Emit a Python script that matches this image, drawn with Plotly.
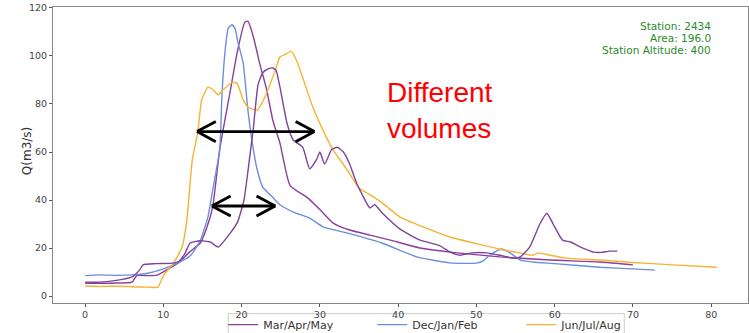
import plotly.graph_objects as go

# Hydrograph events, discharge Q (m3/s) against time step
mam_a_x = [0, 2, 4, 6, 6.6, 8, 9.2, 10.5, 12, 13.4, 14.7, 15.5, 16.3, 17.2, 18.5, 19.5,
           20.4, 20.8, 21.5, 22.3, 23.2, 24, 24.9, 26.2, 28.4, 30, 31.7, 33.8, 36.4, 39,
           42.8, 46.6, 53, 59.4, 65.8, 70]
mam_a_y = [5.3, 5.3, 5.4, 5.8, 8.5, 8.5, 8.7, 11, 14, 18.5, 22, 28, 37, 61, 84.5, 102.5,
           114, 114.5, 108, 97, 86, 73, 63.7, 46, 41, 36, 30.4, 27.5, 25.4, 23.3,
           20, 18.3, 16.3, 15, 14.2, 13]

mam_b_x = [0, 2, 4, 6, 7, 7.4, 9, 11.3, 12, 12.8, 13.4, 14.7, 16, 17, 18.5, 19.5, 20.3,
           21, 21.5, 22.1, 22.7, 23.4, 24, 24.4, 24.9, 25.8, 26.6, 27.8, 28.7, 29.6, 30,
           30.6, 31.5, 32.2, 33, 33.8, 34.7, 36.4, 37, 38, 40.2, 42.8, 45.3, 46.6, 47.9,
           49.4, 51.3, 53, 54.7, 55.6, 56.8, 58.1, 59, 59.8, 61, 62, 63.6, 65, 66, 67, 68]
mam_b_y = [5.8, 5.8, 6.5, 8, 11, 13, 13.5, 13.7, 14.5, 18, 22, 23, 22.5, 20.4, 26, 31, 40,
           57, 70, 88, 93, 94.6, 95, 94, 87, 72, 65, 62, 53, 57, 60,
           55, 61, 62, 60, 55, 47, 36.7, 38, 34.5, 28, 23.3, 21, 18.4, 17,
           18, 18, 17, 15.8, 16.3, 20.4, 30, 34.5, 30, 23.3, 22.5, 20, 18.3, 18.2, 18.7, 18.7]

djf_x = [0, 2, 4, 6, 8, 10, 12, 13.5, 14.7, 15.7, 16.3, 17.2, 17.5, 17.9, 18.3, 18.8, 19.2,
         19.5, 20.2, 20.8, 21.5, 22, 22.7, 24, 24.9, 26.6, 28.7, 30.4, 33.8, 38, 42.4,
         46.6, 50, 50.8, 51.7, 53.2, 54.3, 55.6, 57.2, 60, 65.8, 70, 72.8]
djf_y = [8.5, 8.8, 8.6, 8.8, 9.5, 11.3, 14, 17, 23, 33, 44, 61, 84.5, 102.5, 111.6, 113, 111,
         106, 97, 77.5, 61, 52.5, 45.4, 41, 38, 35, 32.5, 28.8, 26, 22, 16.3,
         13.8, 13.7, 14.5, 17, 19.6, 18, 15, 14.2, 13.5, 12, 11.3, 10.8]

jja_x = [0, 2, 4, 6, 8, 9.3, 10, 11.3, 12.4, 13, 13.7, 14.4, 14.9, 15.7, 16.4, 17, 17.6,
         18.8, 19.4, 20.2, 20.8, 22, 23, 24.3, 24.9, 25.8, 26.3, 27, 27.8, 29.1, 30.4,
         31.7, 33.5, 35, 36.5, 38, 40.2, 43.2, 46.6, 50.8, 53, 55, 57.2, 57.9, 59.4,
         61.5, 65.8, 70, 75, 80.7]
jja_y = [4.2, 4.0, 4.1, 3.9, 3.7, 3.7, 8.5, 13.7, 20.4, 31.7, 56.7, 68.3, 81.7, 87, 85.8, 83.8,
         85.8, 89, 88.7, 81.7, 78.7, 77.5, 83, 94, 99.6, 101, 102, 98.3, 91, 78.7, 69,
         60.8, 52.5, 45, 42, 38.7, 33, 28.8, 24.6, 21.2, 19.5, 18.3, 17, 18, 17,
         15.8, 15, 14, 13, 12]

x_ticks = [0, 10, 20, 30, 40, 50, 60, 70, 80]
y_ticks = [0, 20, 40, 60, 80, 100, 120]

station_lines = ["Station: 2434", "Area: 196.0", "Station Altitude: 400"]

# double-headed arrows: (left tip, right tip, level)
arrows = [(14.3, 29.3, 68.5), (16.2, 24.3, 37.5)]
head_dx, head_dy = 2.4, 4.2

PURPLE = "#8e3d9c"
PURPLE2 = "#7d4499"
BLUE = "#6b8fdc"
YELLOW = "#f5b335"

fig = go.Figure()
line_kw = dict(mode="lines", hoverinfo="skip")
fig.add_trace(go.Scatter(x=mam_a_x, y=mam_a_y, name="Mar/Apr/May", legendgroup="mam",
                         line=dict(color=PURPLE, width=1.4, shape="spline", smoothing=0.5), **line_kw))
fig.add_trace(go.Scatter(x=djf_x, y=djf_y, name="Dec/Jan/Feb",
                         line=dict(color=BLUE, width=1.4, shape="spline", smoothing=0.5), **line_kw))
fig.add_trace(go.Scatter(x=jja_x, y=jja_y, name="Jun/Jul/Aug",
                         line=dict(color=YELLOW, width=1.4, shape="spline", smoothing=0.5), **line_kw))
fig.add_trace(go.Scatter(x=mam_b_x, y=mam_b_y, name="Mar/Apr/May", legendgroup="mam",
                         showlegend=False,
                         line=dict(color=PURPLE2, width=1.4, shape="spline", smoothing=0.5), **line_kw))

shapes = []
for x0, x1, yv in arrows:
    seg = dict(type="line", xref="x", yref="y", line=dict(color="black", width=2.8))
    shapes.append(dict(seg, x0=x0, x1=x1, y0=yv, y1=yv))
    for tip, sgn in ((x0, 1), (x1, -1)):
        shapes.append(dict(seg, x0=tip, y0=yv, x1=tip + sgn * head_dx, y1=yv + head_dy))
        shapes.append(dict(seg, x0=tip, y0=yv, x1=tip + sgn * head_dx, y1=yv - head_dy))

# legend frame, drawn as a separate box so the entries can sit higher inside it
shapes.append(dict(type="rect", xref="paper", yref="paper", x0=0.252, x1=0.822,
                   y0=-0.036, y1=-0.2, line=dict(color="#cccccc", width=1), layer="below"))

annotations = []
for i, txt in enumerate(station_lines):
    annotations.append(dict(text=txt, xref="paper", yref="paper", x=0.95, y=0.937 - i * 0.0415,
                            xanchor="right", yanchor="middle", showarrow=False,
                            font=dict(family="DejaVu Sans", size=10.5, color="#2a8a2a")))
annotations.append(dict(text="Different<br>volumes", xref="x", yref="y", x=38.3, y=77.1,
                        xanchor="left", yanchor="middle", align="left", showarrow=False,
                        font=dict(family="Liberation Sans, Arial", size=28, color="#ff0000")))
# y-axis title, set close to the tick labels
annotations.append(dict(text="Q(m3/s)", xref="paper", yref="paper", x=-0.037, y=0.514,
                        xanchor="center", yanchor="middle", textangle=-90, showarrow=False,
                        font=dict(family="DejaVu Sans", size=12, color="#333333")))

axis_common = dict(showline=True, linecolor="#888888", linewidth=1, mirror=True,
                   ticks="outside", ticklen=3, tickcolor="#555555", showgrid=False,
                   zeroline=False, tickfont=dict(family="DejaVu Sans", size=9.5, color="#444444"))

fig.update_layout(
    width=749, height=333,
    margin=dict(l=53, r=1, t=7, b=30, autoexpand=False),
    plot_bgcolor="white", paper_bgcolor="white",
    xaxis=dict(range=[-4.1, 84.7], tickvals=x_ticks, **axis_common),
    yaxis=dict(range=[-2.9, 120.4], tickvals=y_ticks, **axis_common),
    shapes=shapes,
    annotations=annotations,
    showlegend=True,
    legend=dict(orientation="h", x=0.245, y=-0.024, xanchor="left", yanchor="top",
                entrywidth=104, borderwidth=0,
                bgcolor="rgba(255,255,255,0)",
                font=dict(family="DejaVu Sans", size=11, color="#333333"),
                tracegroupgap=0),
)

fig.write_html("out.html")
